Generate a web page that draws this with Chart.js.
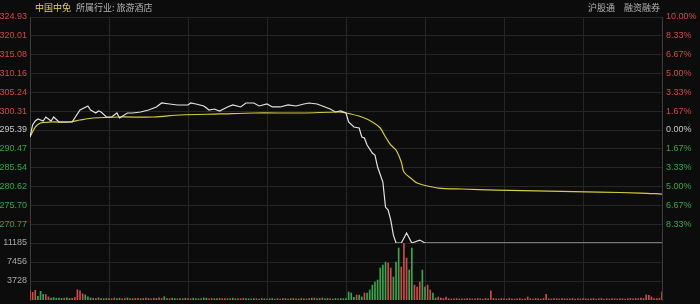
<!DOCTYPE html>
<html>
<head>
<meta charset="utf-8">
<script src="https://cdn.jsdelivr.net/npm/chart.js@4"></script>
<style>
  body { margin: 0; background: #0c0c0c; }
  #wrap { position: relative; width: 700px; height: 304px; }
  .hd { position: absolute; top: 1px; font: 9px "Noto Sans CJK SC", sans-serif; color: #b4b4b4; white-space: nowrap; }
</style>
</head>
<body>
<div id="wrap">
  <canvas id="fenshi" width="700" height="304"></canvas>
  <span class="hd" style="left:35px;color:#e3d36a">中国中免</span>
  <span class="hd" style="left:76px">所属行业: 旅游酒店</span>
  <span class="hd" style="left:588px">沪股通</span>
  <span class="hd" style="left:624px">融资融券</span>
</div>
<script>
// previous close
const preClose = 295.39;

// price line: minute index -> price
const priceMin = [0, 1, 2, 3, 5, 6, 8, 9, 11, 14, 16, 19, 22, 23, 25, 26, 27, 29, 31, 33, 34, 37, 39, 42, 45, 48, 50, 53, 56, 60,
  61, 63, 66, 68, 70, 72, 75, 77, 80, 82, 85, 87, 90, 92, 95, 98, 101, 104, 106, 109, 111, 114, 116, 118, 120, 121, 123, 125, 126, 127,
  128, 130, 131, 132, 134, 135, 136, 137, 138, 139, 141, 143, 145, 148, 150, 240];
const price = [293.56, 296.70, 297.74, 298.27, 297.74, 298.79, 297.74, 298.79, 297.48, 297.48, 297.48, 300.62, 301.67, 300.62, 299.84, 300.36, 300.10, 298.79, 298.79, 299.84,
  298.53, 299.84, 299.84, 300.10, 300.62, 301.41, 302.45, 302.19, 301.93, 301.93, 302.45, 302.19, 301.67, 300.62, 300.88, 300.36, 301.41, 301.93, 301.41, 302.45,
  302.45, 301.67, 302.19, 301.41, 301.41, 301.93, 301.67, 302.19, 302.45, 302.19, 301.67, 300.88, 300.10, 300.36, 299.84, 297.50, 296.17, 295.91, 293.56, 293.30,
  291.47, 289.37, 288.85, 285.71, 281.79, 275.25, 274.46, 271.85, 267.92, 265.85, 265.85, 268.45, 265.85, 266.61, 265.85, 265.85];

// average price line
const avgMin = [0, 2, 4, 8, 15, 19, 24, 34, 47, 57, 72, 85, 104, 117, 120, 126, 130, 133, 135, 137, 139, 141, 142, 145, 147, 151, 155, 164, 177, 197, 216, 232, 240];
const avgPrice = [293.56, 296.17, 297.22, 297.48, 297.48, 298.01, 298.53, 298.79, 298.79, 299.31, 299.58, 299.84, 299.84, 300.10, 299.84, 298.79, 297.48, 295.91, 293.56, 291.47,
  290.16, 287.02, 284.40, 282.57, 281.52, 280.74, 280.22, 279.96, 279.69, 279.43, 279.17, 278.91, 278.65];

// volume per minute (241 minutes)
const volume = [
  1800, 1500, 1900, 700, 1700, 1100, 1100, 600, 400, 450,
  350, 400, 300, 350, 450, 300, 350, 500, 2000, 1800,
  1200, 1000, 600, 400, 350, 300, 450, 300, 250, 350,
  300, 250, 400, 300, 350, 250, 300, 400, 300, 250,
  300, 350, 250, 300, 400, 300, 250, 350, 300, 450,
  300, 650, 300, 250, 350, 300, 250, 300, 250, 350,
  300, 250, 350, 300, 250, 300, 400, 350, 250, 300,
  250, 300, 350, 250, 300, 250, 300, 350, 250, 300,
  250, 350, 300, 250, 200, 300, 250, 200, 300, 250,
  200, 250, 300, 200, 250, 200, 300, 250, 200, 250,
  300, 250, 200, 300, 250, 200, 300, 350, 400, 250,
  300, 400, 250, 300, 250, 200, 300, 250, 300, 250,
  300, 1570, 1370, 500, 980, 980, 600, 1370, 1370, 1960,
  2940, 3530, 3920, 6270, 6860, 7450, 7250, 6270, 4500, 7450,
  10200, 6470, 11185, 8230, 5880, 10200, 2940, 2550, 3530, 5880,
  2550, 2940, 1960, 1370, 400, 590, 390, 300, 590, 250,
  200, 250, 300, 200, 250, 200, 300, 250, 200, 250,
  300, 250, 200, 300, 250, 1800, 300, 250, 200, 300,
  250, 200, 300, 250, 200, 250, 300, 200, 250, 600,
  250, 200, 300, 250, 200, 300, 1100, 250, 200, 300,
  250, 200, 300, 250, 200, 250, 300, 200, 250, 200,
  300, 250, 200, 250, 300, 200, 250, 300, 200, 250,
  200, 300, 250, 200, 300, 250, 200, 250, 300, 250,
  300, 250, 400, 300, 1000, 900, 600, 300, 250, 300,
  1600
];
// r = up minute, g = down minute
const volSide =
  'rrrgggrrgg' + 'gggrggrrrr' + 'rgggrgrggr' + 'grrggrrgrg' + 'rrgrrgrrgr' +
  'rggrggrgrg' + 'rrgggrggrr' + 'ggrrrgrggr' + 'rrggrgrgrg' + 'rggrgrrgrg' +
  'rrgrgrrgrg' + 'grggrggrgg' + 'ggggrggrgg' + 'ggggggrrgg' + 'grrrggrrrg' +
  'grrggrrrrr' + 'r'.repeat(81);

// axis ticks
const priceTicks = [324.93, 320.01, 315.08, 310.16, 305.24, 300.31, 295.39, 290.47, 285.54, 280.62, 275.70, 270.77, 265.85];
const pctTicks = [10.00, 8.33, 6.67, 5.00, 3.33, 1.67, 0.00, -1.67, -3.33, -5.00, -6.67, -8.33];
const volTicks = [3728, 7456, 11185];

const RED = '#d24a48', GREEN = '#33a84c', GRID = '#262626';
const priceW = 226, volW = 57;
const tickFont = { family: 'Liberation Sans, Arial, sans-serif', size: 9 };

function upDownColor(v, base) {
  if (Math.abs(v - base) < 0.001) return '#c8c8c8';
  return v > base ? RED : GREEN;
}

// keep the plot box fixed: axis widths set by hand, no label padding
function fixWidth(w) {
  return function(s) {
    s.width = w;
    s.paddingTop = 0;
    s.paddingBottom = 0;
  };
}

window.onload = function() {
  const ctx = document.getElementById('fenshi').getContext('2d');
  new Chart(ctx, {
    type: 'line',
    data: {
      datasets: [
        {
          type: 'line',
          data: priceMin.map((m, i) => ({ x: m, y: price[i] })),
          yAxisID: 'y',
          borderColor: '#e2e2e2',
          borderWidth: 1.2,
          pointRadius: 0,
          tension: 0
        },
        {
          type: 'line',
          data: avgMin.map((m, i) => ({ x: m, y: avgPrice[i] })),
          yAxisID: 'y',
          borderColor: '#d4cc3c',
          borderWidth: 1.2,
          pointRadius: 0,
          tension: 0.3
        },
        {
          type: 'bar',
          data: volume.map((v, i) => ({ x: i, y: v })),
          yAxisID: 'yv',
          backgroundColor: volume.map((v, i) => volSide[i] === 'g' ? GREEN : RED),
          barThickness: 1
        }
      ]
    },
    options: {
      responsive: false,
      animation: false,
      layout: { padding: { top: 17, bottom: 4, left: 0, right: 0 } },
      plugins: { legend: { display: false }, tooltip: { enabled: false } },
      scales: {
        x: {
          type: 'linear',
          min: 0,
          max: 240,
          offset: false,
          ticks: { display: false, stepSize: 30 },
          grid: { color: GRID, drawTicks: false, offset: false },
          border: { display: false },
          afterFit(s) { s.height = 0; s.paddingLeft = 0; s.paddingRight = 0; }
        },
        yv: {
          position: 'left',
          stack: 'left',
          stackWeight: volW,
          min: 0,
          max: 11185,
          afterBuildTicks(s) { s.ticks = volTicks.map(v => ({ value: v })); },
          ticks: { color: '#a8a8a8', font: tickFont, padding: 3, autoSkip: false, callback: v => String(v) },
          grid: { color: GRID, drawTicks: false },
          border: { color: '#3a3a3a' },
          afterFit: fixWidth(30)
        },
        y: {
          position: 'left',
          stack: 'left',
          stackWeight: priceW,
          min: 265.85,
          max: 324.93,
          afterBuildTicks(s) { s.ticks = priceTicks.map(v => ({ value: v })); },
          ticks: {
            font: tickFont,
            padding: 3,
            autoSkip: false,
            color: c => upDownColor(c.tick.value, preClose),
            callback: (v, i) => i === priceTicks.length - 1 ? '' : v.toFixed(2)
          },
          grid: { color: GRID, drawTicks: false },
          border: { color: '#3a3a3a' },
          afterFit: fixWidth(30)
        },
        yr: {
          position: 'right',
          min: -10 - 20 * volW / priceW,
          max: 10,
          afterBuildTicks(s) { s.ticks = pctTicks.map(v => ({ value: v })); },
          ticks: {
            font: tickFont,
            padding: 4,
            autoSkip: false,
            color: c => upDownColor(c.tick.value, 0),
            callback: v => Math.abs(v).toFixed(2) + '%'
          },
          grid: { display: false, drawTicks: false },
          border: { color: '#3a3a3a' },
          afterFit: fixWidth(38)
        }
      }
    }
  });
};
</script>
</body>
</html>
